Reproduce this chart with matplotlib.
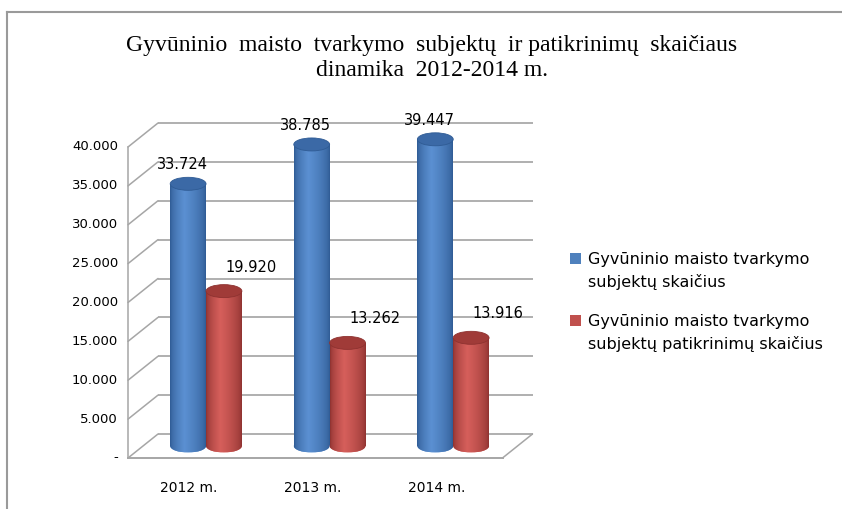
import numpy as np
import matplotlib
matplotlib.use("Agg")
import matplotlib.pyplot as plt
import matplotlib.transforms as mtransforms
from matplotlib.patches import Ellipse, ConnectionPatch, Patch, Rectangle
from matplotlib.legend_handler import HandlerPatch
from matplotlib.lines import Line2D
from matplotlib.colors import to_rgb

# ---------------- data ----------------
categories = ["2012 m.", "2013 m.", "2014 m."]
subjects = [33724, 38785, 39447]          # Gyvūninio maisto tvarkymo subjektų skaičius
inspections = [19920, 13262, 13916]       # ... subjektų patikrinimų skaičius
series_names = ["Gyvūninio maisto tvarkymo\nsubjektų skaičius",
                "Gyvūninio maisto tvarkymo\nsubjektų patikrinimų skaičius"]
yticks = [0, 5000, 10000, 15000, 20000, 25000, 30000, 35000, 40000]
ytick_labels = ["-", "5.000", "10.000", "15.000", "20.000", "25.000",
                "30.000", "35.000", "40.000"]
value_labels_1 = ["33.724", "38.785", "39.447"]
value_labels_2 = ["19.920", "13.262", "13.916"]
title = "Gyvūninio  maisto  tvarkymo  subjektų  ir patikrinimų  skaičiaus\ndinamika  2012-2014 m."

# ---------------- styling ----------------
DPI = 100
W, H = 842, 509
blue_edge, blue_mid, blue_top = "#2f5b94", "#5b90d2", "#3b69a6"
red_edge, red_mid, red_top = "#8e3230", "#d65f5b", "#a03b38"
grid_col = "#a6a6a6"

fig = plt.figure(figsize=(W / DPI, H / DPI), dpi=DPI)
fig.patch.set_facecolor("white")

# axes = the middle depth plane of the pseudo-3D chart
ax_left, ax_right = 143, 517.5
ax_zero, ax_top = 446, 135
ax = fig.add_axes([ax_left / W, (H - ax_zero) / H,
                   (ax_right - ax_left) / W, (ax_zero - ax_top) / H])
ax.set_xlim(-0.51, 2.52)
ax.set_ylim(0, 40000)
ax.set_axis_off()

def offset(dx, dy):
    return mtransforms.ScaledTranslation(dx / DPI, dy / DPI, fig.dpi_scale_trans)

back = ax.transData + offset(15, 12)
front = ax.transData + offset(-15, -12)
xl, xr = ax.get_xlim()

# back wall gridlines + side wall diagonals
for t in yticks:
    ax.plot([xl, xr], [t, t], transform=back, color=grid_col, lw=1.25,
            clip_on=False, zorder=0, solid_capstyle="butt")
    cp = ConnectionPatch(xyA=(xl, t), coordsA=front, xyB=(xl, t), coordsB=back,
                         color=grid_col, lw=1.1, zorder=0)
    fig.add_artist(cp)
# front left edge of side wall and floor front edge
ax.plot([xl, xl], [0, yticks[-1]], transform=front, color=grid_col, lw=1.1,
        clip_on=False, zorder=0)
ax.plot([xl, xr], [0, 0], transform=front, color=grid_col, lw=1.4,
        clip_on=False, zorder=0)
fig.add_artist(ConnectionPatch(xyA=(xr, 0), coordsA=front, xyB=(xr, 0), coordsB=back,
                               color=grid_col, lw=1.1, zorder=0))

# ---------------- cylinders ----------------
width = 0.29
x = np.arange(len(categories))
px_per_unit_y = (ax_zero - ax_top) / 40000.0
ell_h = 13 / px_per_unit_y  # ellipse height in data units

def gradient(edge, mid, n=64):
    e, m = np.array(to_rgb(edge)), np.array(to_rgb(mid))
    s = np.linspace(0, 1, n)
    w = np.where(s < 0.4, s / 0.4, (1 - s) / 0.6)
    w = w ** 0.6
    cols = e[None, :] * (1 - w[:, None]) + m[None, :] * w[:, None]
    return cols[None, :, :]

def cylinders(xpos, vals, edge, mid, top, z):
    bars = ax.bar(xpos, vals, width=width, color=mid, zorder=z, linewidth=0)
    grad = gradient(edge, mid)
    for b, v in zip(bars, vals):
        x0 = b.get_x()
        x1 = x0 + b.get_width()
        xc = x0 + b.get_width() / 2
        be = Ellipse((xc, 0), b.get_width(), ell_h, facecolor=mid, lw=0,
                     zorder=z, clip_on=False)
        ax.add_patch(be)
        im = ax.imshow(grad, extent=(x0, x1, -ell_h / 2, 0), aspect="auto",
                       zorder=z + 0.1, interpolation="bilinear")
        im.set_clip_path(be)
        im.set_clip_box(fig.bbox)
        im2 = ax.imshow(grad, extent=(x0, x1, 0, v), aspect="auto",
                        zorder=z + 0.1, interpolation="bilinear")
        im2.set_clip_path(b)
        ax.add_patch(Ellipse((xc, v), b.get_width(), ell_h, facecolor=top,
                             edgecolor=edge, lw=0.6, zorder=z + 0.2, clip_on=False))
    return bars

cylinders(x - width / 2, subjects, blue_edge, blue_mid, blue_top, 3)
cylinders(x + width / 2, inspections, red_edge, red_mid, red_top, 4)
ax.set_xlim(xl, xr)
ax.set_ylim(0, 40000)

# value labels
for i in range(len(categories)):
    ax.annotate(value_labels_1[i], (x[i] - width / 2, subjects[i]),
                xytext=(-6, 19), textcoords="offset pixels", ha="center",
                va="center", fontsize=10.5, color="black", zorder=10)
    ax.annotate(value_labels_2[i], (x[i] + width / 2, inspections[i]),
                xytext=(27, 24), textcoords="offset pixels", ha="center",
                va="center", fontsize=10.5, color="black", zorder=10)

# y tick labels (front plane)
for t, lbl in zip(yticks, ytick_labels):
    ax.annotate(lbl, (xl, t), xycoords=front, xytext=(-10, 0),
                textcoords="offset pixels", ha="right", va="center",
                fontsize=9.5, color="black", annotation_clip=False)

# category labels (front plane)
for i, c in enumerate(categories):
    ax.annotate(c, (x[i], 0), xycoords=front, xytext=(-2, -30),
                textcoords="offset pixels", ha="center", va="center",
                fontsize=10, color="black", annotation_clip=False)

# title
fig.text(0.513, 1 - 58 / H, title, ha="center", va="center",
         family="Liberation Serif", fontsize=17, linespacing=1.3)

# legend with square aligned to the first text line
def top_square(legend, orig_handle, xdescent, ydescent, width, height, fontsize):
    return Rectangle((-xdescent, -ydescent + 0.8 * fontsize), width, height)

handles = [Patch(facecolor="#4f81bd", edgecolor="none"),
           Patch(facecolor="#c0504d", edgecolor="none")]
leg = fig.legend(handles, series_names, loc="center left",
                 bbox_to_anchor=(562 / W, 1 - 302 / H), frameon=False,
                 fontsize=11.5, handlelength=0.72, handleheight=0.72,
                 handletextpad=0.4, labelspacing=1.45, borderpad=0,
                 handler_map={Patch: HandlerPatch(patch_func=top_square)})
for txt in leg.get_texts():
    txt.set_linespacing(1.6)

# outer frame (top and left edges visible)
fig.add_artist(Line2D([7 / W, 1], [1 - 12 / H, 1 - 12 / H], color="#9a9a9a",
                      lw=1.5, transform=fig.transFigure))
fig.add_artist(Line2D([7 / W, 7 / W], [0, 1 - 12 / H], color="#9a9a9a",
                      lw=1.5, transform=fig.transFigure))

fig.savefig("out.png", dpi=DPI)
